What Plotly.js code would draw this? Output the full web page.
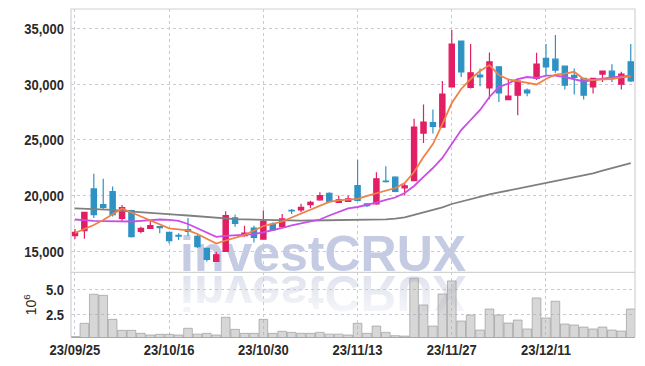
<!DOCTYPE html>
<html>
<head>
<meta charset="utf-8">
<script src="https://cdn.plot.ly/plotly-3.0.1.min.js"></script>
<style>
  html, body { margin: 0; padding: 0; background: #ffffff; }
  #wrap { position: relative; width: 645px; height: 366px; }
  .wm { position: absolute; left: 180px; top: 228.7px; font-family: "Liberation Sans", Arial, sans-serif;
        font-weight: bold; font-size: 50px; line-height: 50px; white-space: nowrap; z-index: 0; }
  #wm1 { color: #c4cbe3; }
  #wm2 { color: #dfe2ee; transform: scaleY(-1); transform-origin: 0 44.3px;
         -webkit-mask-image: linear-gradient(to top, rgba(0,0,0,1) 15%, rgba(0,0,0,0.2) 100%);
         mask-image: linear-gradient(to top, rgba(0,0,0,1) 15%, rgba(0,0,0,0.2) 100%); }
  #chart { position: absolute; left: 0; top: 0; width: 645px; height: 366px; z-index: 1; }
</style>
</head>
<body>
<div id="wrap">
  <div class="wm" id="wm1">investCRUX</div>
  <div class="wm" id="wm2">investCRUX</div>
  <div id="chart"></div>
</div>
<script>
const dates = ['23/09/25','23/09/26','23/09/27','23/10/04','23/10/05','23/10/06','23/10/10','23/10/11','23/10/12','23/10/13',
  '23/10/16','23/10/17','23/10/18','23/10/19','23/10/20','23/10/23','23/10/24','23/10/25','23/10/26','23/10/27',
  '23/10/30','23/10/31','23/11/01','23/11/02','23/11/03','23/11/06','23/11/07','23/11/08','23/11/09','23/11/10',
  '23/11/13','23/11/14','23/11/15','23/11/16','23/11/17','23/11/20','23/11/21','23/11/22','23/11/23','23/11/24',
  '23/11/27','23/11/28','23/11/29','23/11/30','23/12/01','23/12/04','23/12/05','23/12/06','23/12/07','23/12/08',
  '23/12/11','23/12/12','23/12/13','23/12/14','23/12/15','23/12/18','23/12/19','23/12/20','23/12/21','23/12/22'];

const openP  = [16430,16880,20620,19210,20380,17980,18680,16820,17090,17240,
  16730,16460,16970,16370,15290,14120,15020,18020,16430,17120,
  16130,17480,17240,18700,18740,19210,19640,20230,19420,19510,
  20920,19280,19280,21310,21670,20700,21370,25620,26560,26160,
  29750,33860,29700,30800,29660,31550,28620,29010,29460,30510,
  32300,32240,31610,30780,30510,29750,30900,31160,30000,32000];
const highP  = [17030,18550,21970,21520,20830,19190,18760,17240,17780,17260,
  16750,16640,18020,16520,15300,14990,18610,18320,17330,17330,
  18680,17620,18380,18830,19280,19570,20320,20320,20020,20020,
  23230,19300,22120,22650,21760,21100,26910,28170,27720,30290,
  34850,33900,33590,31410,32840,31610,30420,30510,29610,32810,
  33590,34400,31650,31410,30540,30540,31200,31790,31100,33590];
const lowP   = [16130,16150,18020,18830,18140,17710,16280,16640,17030,16640,
  15740,16040,16430,15320,14120,14100,14990,17240,16340,15830,
  16100,16870,17200,18380,18520,18920,19570,19420,19400,19480,
  19510,19000,19200,21200,20320,20020,21300,24720,25570,26100,
  29700,30650,29610,29820,28650,28400,28560,27210,28920,30360,
  30800,31010,29520,29070,28620,29160,30200,30200,29520,30200];
const closeP = [16720,18520,18320,18970,18320,18940,16340,17090,17330,17150,
  15980,16400,16820,15440,14300,14720,18230,17540,16670,16280,
  17740,16940,17930,18650,18970,19420,20020,19510,19640,19720,
  19600,19130,21520,21260,20400,20890,26160,26610,26220,29100,
  33590,31100,31010,30650,32000,29210,28920,30270,29210,31790,
  31540,31250,29910,30600,29010,30510,31160,30600,30890,30290];

const ma5  = [16670,17030,17390,17840,18370,18870,18510,18150,17840,17480,
  17080,16990,16900,16580,16140,15730,16000,16270,16490,16900,
  17300,17480,17700,18060,18420,18780,19140,19450,19600,19670,
  19720,19990,20230,20430,20700,21150,22130,23480,24640,26430,
  28310,29570,30460,31180,31710,30820,30420,30280,30100,29970,
  30460,30860,30950,31110,30460,30370,30420,30460,30600,30690];
const ma20 = [17880,17790,17750,17730,17720,17700,17700,17750,17840,17880,
  17850,17750,17480,17080,16670,16330,16420,16470,16490,16580,
  16720,16900,17120,17350,17520,17660,17880,18240,18550,18870,
  19000,19180,19400,19630,19850,20250,20880,21690,22490,23390,
  24640,25890,26790,27690,28850,29740,30060,30460,30640,30550,
  30770,30770,30640,30460,30240,30370,30510,30610,30690,30730];
const ma60 = [18880,18850,18810,18780,18740,18660,18590,18540,18490,18420,
  18360,18300,18240,18170,18080,18010,17960,17920,17890,17860,
  17840,17820,17800,17785,17780,17790,17800,17830,17840,17840,
  17840,17850,17870,17900,17960,18080,18300,18510,18710,18960,
  19270,19500,19700,19930,20130,20300,20470,20640,20810,20970,
  21140,21300,21470,21640,21810,22020,22250,22480,22700,22930];

const volume = [210000,1570000,4560000,4450000,1980000,850000,850000,540000,370000,440000,
  440000,370000,1060000,460000,540000,370000,2190000,950000,540000,540000,
  1980000,540000,750000,640000,540000,540000,640000,460000,460000,370000,
  1570000,540000,1290000,640000,300000,260000,6200000,3460000,1290000,4590000,
  5930000,1810000,2430000,880000,3040000,2430000,1600000,1910000,990000,4180000,
  2120000,3840000,1500000,1400000,1190000,990000,1190000,880000,780000,3040000];

const xTickVals = ['23/09/25','23/10/16','23/10/30','23/11/13','23/11/27','23/12/11'];
const priceTicks = [15000,20000,25000,30000,35000];
const volTickVals = [2500000,5000000];
const volTickText = ['2.5','5.0'];

const RED = '#e21e64', BLUE = '#2e92c4';
const tickFont = {family: '"Liberation Sans", Arial, sans-serif', size: 15.5, color: '#2a2a2a', weight: 'bold'};
const gridCol = '#c9cad8';

const traces = [
  {type: 'bar', x: dates, y: volume, xaxis: 'x', yaxis: 'y2',
   marker: {color: 'rgba(172,172,172,0.48)', line: {color: 'rgba(150,150,150,0.8)', width: 0.8}},
   hoverinfo: 'skip'},
  {type: 'candlestick', x: dates, open: openP, high: highP, low: lowP, close: closeP,
   xaxis: 'x', yaxis: 'y', whiskerwidth: 0,
   increasing: {line: {color: RED, width: 1.2}, fillcolor: RED},
   decreasing: {line: {color: BLUE, width: 1.2}, fillcolor: BLUE},
   hoverinfo: 'skip'},
  {type: 'scatter', mode: 'lines', x: dates, y: ma60, xaxis: 'x', yaxis: 'y',
   line: {color: '#7f7f7f', width: 1.8}, hoverinfo: 'skip'},
  {type: 'scatter', mode: 'lines', x: dates, y: ma20, xaxis: 'x', yaxis: 'y',
   line: {color: '#c94ee6', width: 1.8}, hoverinfo: 'skip'},
  {type: 'scatter', mode: 'lines', x: dates, y: ma5, xaxis: 'x', yaxis: 'y',
   line: {color: '#ee8247', width: 1.8}, hoverinfo: 'skip'}
];

const layout = {
  width: 645, height: 366,
  margin: {l: 71, r: 10, t: 9, b: 29, pad: 0},
  paper_bgcolor: 'rgba(0,0,0,0)', plot_bgcolor: 'rgba(0,0,0,0)',
  showlegend: false, boxgap: 0.2, bargap: 0.08,
  xaxis: {type: 'category', anchor: 'y2', range: [-0.42, 59.45],
    tickmode: 'array', tickvals: xTickVals, ticktext: xTickVals,
    showgrid: true, gridcolor: gridCol, griddash: 'dot', gridwidth: 1,
    ticks: '', ticklabelstandoff: -2, tickfont: tickFont, showline: true, linecolor: '#a8a8a8', linewidth: 1,
    rangeslider: {visible: false}, fixedrange: true, zeroline: false},
  yaxis: {domain: [0.197, 1], range: [13146, 36728], tickmode: 'array', tickvals: priceTicks,
    tickformat: ',d', showgrid: true, gridcolor: gridCol, griddash: 'dot', gridwidth: 1,
    ticks: '', ticklabelstandoff: 6, tickfont: tickFont, zeroline: false, showline: false},
  yaxis2: {domain: [0, 0.197], range: [165000, 6810000], tickmode: 'array',
    tickvals: volTickVals, ticktext: volTickText,
    showgrid: true, gridcolor: gridCol, griddash: 'dot', gridwidth: 1,
    ticks: '', ticklabelstandoff: 6, tickfont: tickFont, zeroline: false, showline: false,
    title: {text: '10<sup>6</sup>', font: {family: '"Liberation Sans", Arial, sans-serif', size: 14, color: '#2a2a2a'}, standoff: 2}},
  shapes: [
    {type: 'rect', xref: 'paper', yref: 'paper', x0: 0, x1: 1, y0: 0.197, y1: 1,
     line: {color: '#d2d2d2', width: 1.2}, fillcolor: 'rgba(0,0,0,0)', layer: 'above'},
    {type: 'line', xref: 'paper', yref: 'paper', x0: 0, x1: 0, y0: 0, y1: 0.197,
     line: {color: '#d2d2d2', width: 1.2}, layer: 'above'},
    {type: 'line', xref: 'paper', yref: 'paper', x0: 1, x1: 1, y0: 0, y1: 0.197,
     line: {color: '#d2d2d2', width: 1.2}, layer: 'above'}
  ]
};

Plotly.newPlot('chart', traces, layout, {staticPlot: true, displayModeBar: false}).then(function (gd) {
  // condense tick label glyphs horizontally to match the narrow face of the reference
  gd.querySelectorAll('.xtick text, .ytick text, .y2tick text').forEach(function (t) {
    const w = t.getComputedTextLength();
    if (w > 0) {
      t.setAttribute('textLength', (w * 0.84).toFixed(1));
      t.setAttribute('lengthAdjust', 'spacingAndGlyphs');
    }
  });
});
</script>
</body>
</html>
